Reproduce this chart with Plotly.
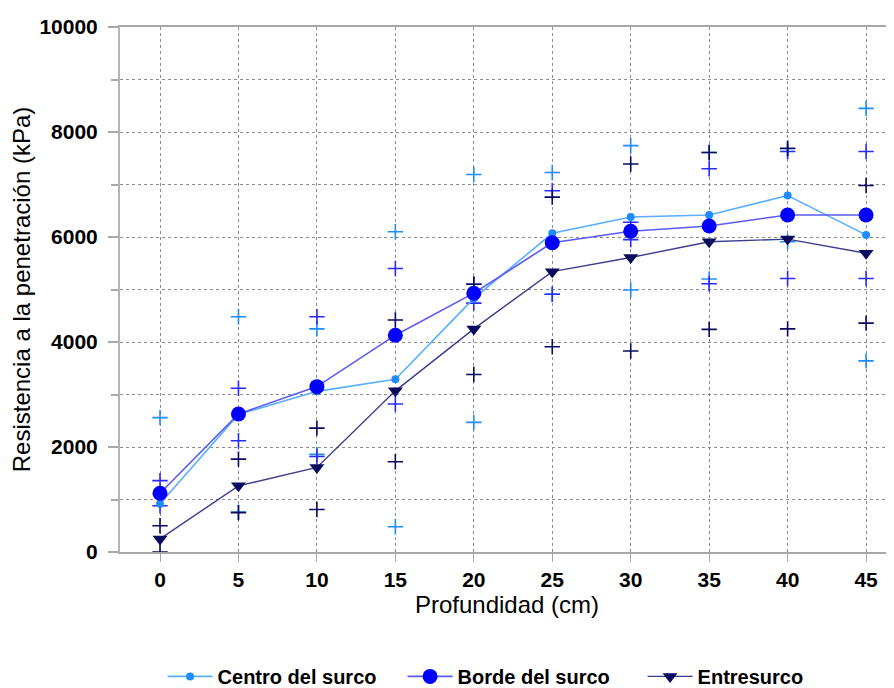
import plotly.graph_objects as go

depth = [0, 5, 10, 15, 20, 25, 30, 35, 40, 45]

centro_mean = [920, 2620, 3060, 3290, 4830, 6070, 6380, 6420, 6790, 6040]
centro_upper = [2560, 4480, 4250, 6100, 7190, 7230, 7740, 7610, 7680, 8450]
centro_lower = [-720, 760, 1860, 480, 2470, 4910, 4990, 5200, 5910, 3640]

borde_mean = [1120, 2630, 3150, 4130, 4930, 5890, 6110, 6210, 6420, 6420]
borde_upper = [1360, 3120, 4480, 5400, 5100, 6880, 6280, 7300, 7630, 7630]
borde_lower = [880, 2120, 1820, 2820, 4740, 4910, 5950, 5110, 5210, 5210]

entre_mean = [250, 1260, 1610, 3070, 4250, 5340, 5610, 5910, 5960, 5690]
entre_upper = [500, 1770, 2360, 4420, 5100, 6760, 7390, 7610, 7690, 6980]
entre_lower = [0, 750, 810, 1720, 3380, 3910, 3830, 4240, 4250, 4360]

series_names = ["Centro del surco", "Borde del surco", "Entresurco"]
x_ticks = [0, 5, 10, 15, 20, 25, 30, 35, 40, 45]
y_ticks = [0, 2000, 4000, 6000, 8000, 10000]
y_tick_text = ["0", "2000", "4000", "6000", "8000", "10000"]

c_centro = "#1E8CFF"
c_centro_line = "#5AAEFF"
c_borde = "#0000FF"
c_borde_line = "#5A5AF5"
c_entre = "#0A0A5E"
c_entre_line = "#3C3C8C"

fig = go.Figure()

for ys, col in [(centro_upper, c_centro), (centro_lower, c_centro),
                (borde_upper, "#2A2AFF"), (borde_lower, "#2A2AFF"),
                (entre_upper, c_entre), (entre_lower, c_entre)]:
    fig.add_trace(go.Scatter(
        x=depth, y=ys, mode="markers", showlegend=False, hoverinfo="skip",
        marker=dict(symbol="cross-thin", size=11, line=dict(color=col, width=1.6))))

fig.add_trace(go.Scatter(
    x=depth, y=centro_mean, name=series_names[0], mode="lines+markers",
    line=dict(color=c_centro_line, width=1.6),
    marker=dict(symbol="circle", size=8, color=c_centro)))
fig.add_trace(go.Scatter(
    x=depth, y=borde_mean, name=series_names[1], mode="lines+markers",
    line=dict(color=c_borde_line, width=1.6),
    marker=dict(symbol="circle", size=15, color=c_borde)))
fig.add_trace(go.Scatter(
    x=depth, y=entre_mean, name=series_names[2], mode="lines+markers",
    line=dict(color=c_entre_line, width=1.4),
    marker=dict(symbol="triangle-down", size=13, color=c_entre)))

grid = dict(gridcolor="#8C8C8C", griddash="3px,3px", gridwidth=1)

fig.update_layout(
    width=894, height=688,
    margin=dict(l=112, r=8, t=19, b=144, autoexpand=False),
    paper_bgcolor="white", plot_bgcolor="white",
    font=dict(family="Liberation Sans, Arial, sans-serif", color="black"),
    showlegend=True,
    legend=dict(orientation="h", x=0.055, xanchor="left", y=-0.237, yanchor="middle",
                font=dict(size=20, weight="bold"), entrywidth=180, itemwidth=45,
                bgcolor="rgba(0,0,0,0)"),
    xaxis=dict(range=[-2.55, 46.78], tickvals=x_ticks, showgrid=True, **grid,
               showline=True, linecolor="#A8A8A8", linewidth=2, mirror=True,
               ticks="outside", ticklen=8, tickcolor="#A8A8A8", tickwidth=1,
               tickfont=dict(size=21, weight="bold"), zeroline=False, automargin=False,
               title=dict(text="Profundidad (cm)", font=dict(size=24), standoff=6)),
    yaxis=dict(range=[0, 10000], tickvals=y_ticks, ticktext=y_tick_text, showgrid=True, **grid,
               showline=True, linecolor="#B4B4B4", linewidth=2,
               ticks="outside", ticklen=10, tickcolor="#A8A8A8", tickwidth=1.5,
               tickfont=dict(size=21, weight="bold"), zeroline=False, automargin=False,
               ticklabelstandoff=6,
               minor=dict(dtick=1000, ticklen=7, tickcolor="#A8A8A8", showgrid=True,
                          gridcolor="#8C8C8C", griddash="3px,3px", gridwidth=1),
               title=dict(text="Resistencia a la penetración (kPa)", font=dict(size=24), standoff=8)),
)

fig.write_html("out.html")
